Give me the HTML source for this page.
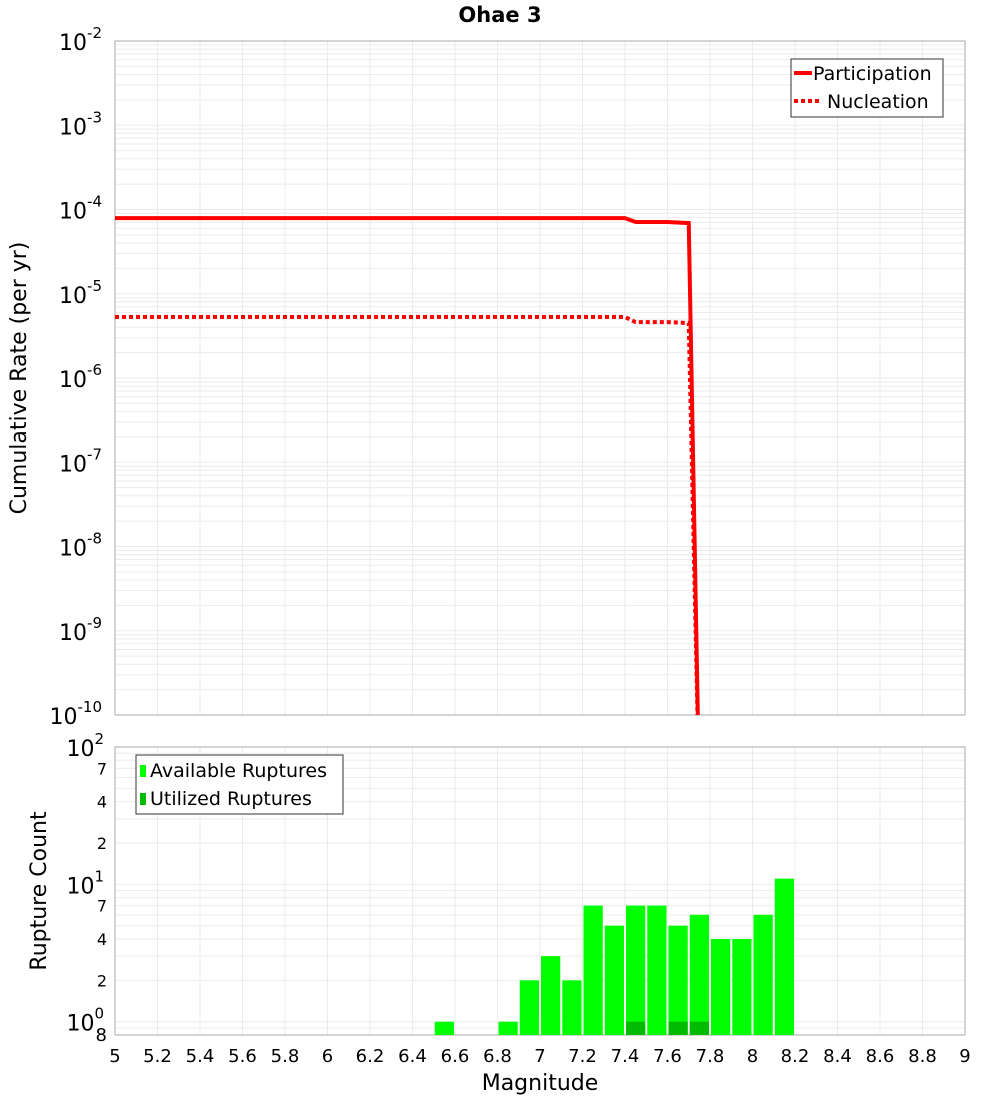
<!DOCTYPE html>
<html><head><meta charset="utf-8"><style>
body{margin:0;background:#fff;font-family:"DejaVu Sans","Liberation Sans",sans-serif}
svg text{font-family:"DejaVu Sans","Liberation Sans",sans-serif}
</style></head><body>
<svg id="c" width="1000" height="1100" xmlns="http://www.w3.org/2000/svg"></svg>
<script>
const partMags=[5.0,7.4,7.45,7.6,7.7,7.75];
const partVals=[7.9e-5,7.9e-5,7.1e-5,7.1e-5,6.9e-5,1e-11];
const nuclMags=[5.0,7.4,7.45,7.6,7.7,7.75];
const nuclVals=[5.3e-6,5.3e-6,4.6e-6,4.6e-6,4.5e-6,1e-11];
const barMags=[6.5,6.8,6.9,7.0,7.1,7.2,7.3,7.4,7.5,7.6,7.7,7.8,7.9,8.0,8.1];
const availCounts=[1,1,2,3,2,7,5,7,7,5,6,4,4,6,11];
const utilMags=[7.4,7.6,7.7];
const utilCounts=[1,1,1];
const xTicks=[5,5.2,5.4,5.6,5.8,6,6.2,6.4,6.6,6.8,7,7.2,7.4,7.6,7.8,8,8.2,8.4,8.6,8.8,9];
const topExps=[-10,-9,-8,-7,-6,-5,-4,-3,-2];
const botTicks=[2,4,7,20,40,70];

const NS="http://www.w3.org/2000/svg",svg=document.getElementById('c');
function mk(t,a,txt,p){const e=document.createElementNS(NS,t);for(const k in a)e.setAttribute(k,a[k]);if(txt!=null)e.textContent=txt;(p||svg).appendChild(e);return e;}
const X0=115,X1=965;
const x=m=>X0+(m-5)/4*(X1-X0);
const T0=41,T1=715;
const yT=v=>T0+(-2-Math.log10(v))/8*(T1-T0);
const B0=747,B1=1035,bMin=Math.log10(0.8),bMax=2;
const yB=v=>B0+(bMax-Math.log10(v))/(bMax-bMin)*(B1-B0);

// title
let t=mk('text',{x:500,y:22,'text-anchor':'middle','font-size':21,'font-weight':'bold'},'Ohae 3');


// top grid
const gT=mk('g',{});
for(let e=-10;e<-2;e++)for(let k=1;k<10;k++){const y=yT(k*Math.pow(10,e));mk('line',{x1:X0,x2:X1,y1:y,y2:y,stroke:'#ebebeb','stroke-width':1},null,gT);}
for(const m of xTicks){mk('line',{x1:x(m),x2:x(m),y1:T0,y2:T1,stroke:'#ebebeb'},null,gT);}
let r=mk('rect',{x:X0,y:T0,width:X1-X0,height:T1-T0,fill:'none',stroke:'#aaa'});

for(const e of topExps){const y=yT(Math.pow(10,e));
 const tt=mk('text',{x:102,y:y+9,'text-anchor':'end','font-size':22});
 mk('tspan',{},'10',tt);mk('tspan',{dy:-12,'font-size':15},String(e),tt);
 }
t=mk('text',{x:26,y:378,'text-anchor':'middle','font-size':22,transform:'rotate(-90 26 378)'},'Cumulative Rate (per yr)');


const clip=mk('clipPath',{id:'cp'});mk('rect',{x:X0,y:T0,width:X1-X0,height:T1-T0},null,clip);
let p=mk('polyline',{points:partMags.map((m,i)=>x(m)+','+yT(partVals[i])).join(' '),fill:'none',stroke:'#f00','stroke-width':4,'clip-path':'url(#cp)'});

p=mk('polyline',{points:nuclMags.map((m,i)=>x(m)+','+yT(nuclVals[i])).join(' '),fill:'none',stroke:'#f00','stroke-width':4,'stroke-dasharray':'4 3','clip-path':'url(#cp)'});


// top legend
const lg=mk('g',{});
mk('rect',{x:791,y:59,width:152,height:58,fill:'#fff',stroke:'#333'},null,lg);
mk('line',{x1:794,x2:812,y1:73,y2:73,stroke:'#f00','stroke-width':4},null,lg);
mk('text',{x:813,y:80,'font-size':19},'Participation',lg);
mk('line',{x1:794,x2:822,y1:101,y2:101,stroke:'#f00','stroke-width':4,'stroke-dasharray':'4 3'},null,lg);
mk('text',{x:827,y:108,'font-size':19},'Nucleation',lg);

// bottom grid
const gB=mk('g',{});
for(let e=-1;e<2;e++)for(let k=1;k<10;k++){const v=k*Math.pow(10,e);if(v<0.8)continue;const y=yB(v);mk('line',{x1:X0,x2:X1,y1:y,y2:y,stroke:'#ebebeb'},null,gB);}
for(const m of xTicks){mk('line',{x1:x(m),x2:x(m),y1:B0,y2:B1,stroke:'#ebebeb'},null,gB);}
r=mk('rect',{x:X0,y:B0,width:X1-X0,height:B1-B0,fill:'none',stroke:'#aaa'});


availCounts.forEach((c,i)=>{const b=mk('rect',{x:x(barMags[i])+1,y:yB(c),width:x(5.1)-x(5)-2,height:B1-yB(c),fill:'#00ff00'});
 });
utilCounts.forEach((c,i)=>{const b=mk('rect',{x:x(utilMags[i])+1,y:yB(c),width:x(5.1)-x(5)-2,height:B1-yB(c),fill:'#00bb00'});
 });

for(const e of [0,1,2]){const y=yB(Math.pow(10,e));
 const tt=mk('text',{x:104,y:y+9,'text-anchor':'end','font-size':22});
 mk('tspan',{},'10',tt);mk('tspan',{dy:-12,'font-size':15},String(e),tt);
 }
for(const v of botTicks){const tt=mk('text',{x:107,y:yB(v)+6,'text-anchor':'end','font-size':16},String(v%10===0?v/10:v));
 }
t=mk('text',{x:107,y:1041,'text-anchor':'end','font-size':18},'8');
t=mk('text',{x:46,y:891,'text-anchor':'middle','font-size':22,transform:'rotate(-90 46 891)'},'Rupture Count');


const lb=mk('g',{});
mk('rect',{x:136,y:755,width:207,height:59,fill:'#fff',stroke:'#333'},null,lb);
mk('rect',{x:140,y:765,width:6,height:12,fill:'#00ff00'},null,lb);
mk('text',{x:150,y:777,'font-size':19},'Available Ruptures',lb);
mk('rect',{x:140,y:793,width:6,height:12,fill:'#00bb00'},null,lb);
mk('text',{x:150,y:805,'font-size':19},'Utilized Ruptures',lb);

for(const m of xTicks){const tt=mk('text',{x:x(m),y:1062,'text-anchor':'middle','font-size':18},String(m));
 }
t=mk('text',{x:540,y:1090,'text-anchor':'middle','font-size':22},'Magnitude');

</script>
</body></html>
